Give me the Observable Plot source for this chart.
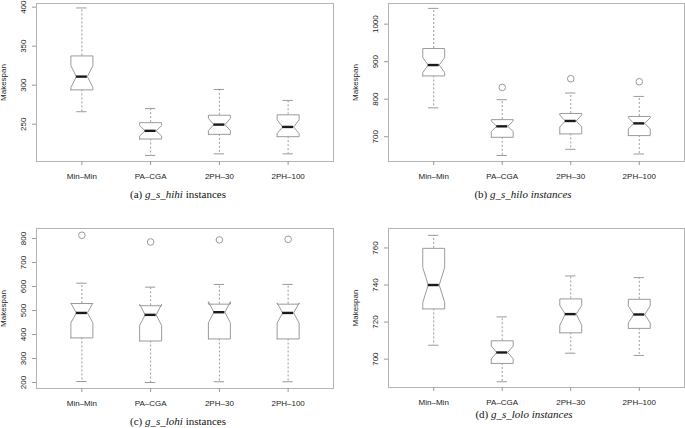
<!DOCTYPE html>
<html><head><meta charset="utf-8">
<script src="https://cdn.jsdelivr.net/npm/d3@7"></script>
<script src="https://cdn.jsdelivr.net/npm/@observablehq/plot@0.6"></script>
<style>
body{margin:0;background:#fff;}
#wrap{position:relative;width:685px;height:428px;overflow:hidden;background:#fff;}
.panel{position:absolute;}
.panel svg{overflow:visible;}
.cap{position:absolute;font-family:"Liberation Serif","Times New Roman",Times,serif;font-size:11px;line-height:12px;transform:translateX(-50%);white-space:nowrap;color:#111;}
[aria-label="x-axis tick"],[aria-label="y-axis tick"]{stroke:#999;}
</style>
</head><body><div id="wrap"></div>
<script>
const algorithms = ["Min\u2013Min", "PA\u2013CGA", "2PH\u201330", "2PH\u2013100"];

// (a) g_s_hihi
const hihiLower   = [266, 210, 212, 212];
const hihiQ1      = [294, 231, 237, 234];
const hihiMedian  = [311, 241.5, 249.5, 246.5];
const hihiQ3      = [337.5, 252, 261.5, 262];
const hihiUpper   = [399, 270, 294.5, 280.5];
const hihiNotchLo = [297, 234.8, 241.8, 237.8];
const hihiNotchHi = [325, 248.2, 257.4, 255.6];
const hihiOutliers = [[], [], [], []];
const hihiTicks = [250, 300, 350, 400];

// (b) g_s_hilo
const hiloLower   = [777, 650, 666.5, 654];
const hiloQ1      = [862, 698.5, 707.5, 703];
const hiloMedian  = [891, 727.7, 742, 735.6];
const hiloQ3      = [935, 745.5, 762, 754];
const hiloUpper   = [1042, 798.7, 816.5, 807.4];
const hiloNotchLo = [871, 714, 726, 720.6];
const hiloNotchHi = [911, 742, 758, 750.6];
const hiloOutliers = [[], [831.4], [854.5], [846.5]];
const hiloTicks = [700, 800, 900, 1000];

// (c) g_s_lohi
const lohiLower   = [204, 200, 203, 203];
const lohiQ1      = [386, 373, 381.6, 381.6];
const lohiMedian  = [490, 482, 493, 490];
const lohiQ3      = [529.3, 520, 526.6, 526.6];
const lohiUpper   = [614, 597.5, 608.8, 609];
const lohiNotchLo = [449, 438, 449, 448];
const lohiNotchHi = [531, 526, 537, 532];
const lohiOutliers = [[813.8], [785.8], [794.5], [797]];
const lohiTicks = [200, 300, 400, 500, 600, 700, 800];

// (d) g_s_lolo
const loloLower   = [707.5, 687.8, 703.2, 702];
const loloQ1      = [727.1, 697.7, 714.2, 716.6];
const loloMedian  = [740, 703.6, 724.3, 724.1];
const loloQ3      = [759.8, 709.9, 732.5, 732.3];
const loloUpper   = [766.8, 722.8, 744.9, 744];
const loloNotchLo = [730.6, 700.1, 718.3, 719.5];
const loloNotchHi = [749.4, 707.1, 729, 728.7];
const loloOutliers = [[], [], [], []];
const loloTicks = [700, 720, 740, 760];

const BOX_HALF = 0.16, NOTCH_SCALE = 0.5, STAPLE_HALF = 0.075;
const GRAY = "#9a9a9a";

const panels = [
  {lower:hihiLower,q1:hihiQ1,median:hihiMedian,q3:hihiQ3,upper:hihiUpper,nlo:hihiNotchLo,nhi:hihiNotchHi,out:hihiOutliers,ticks:hihiTicks,
   domain:[202.2,404.7], left:0, top:0, width:342, height:190, mL:36, mR:9, mT:3, mB:29,
   caption:'(a) <i>g_s_hihi</i> instances', cx:178, cy:194},
  {lower:hiloLower,q1:hiloQ1,median:hiloMedian,q3:hiloQ3,upper:hiloUpper,nlo:hiloNotchLo,nhi:hiloNotchHi,out:hiloOutliers,ticks:hiloTicks,
   domain:[634,1055], left:345, top:0, width:340, height:190, mL:43, mR:1, mT:3, mB:29,
   caption:'(b) <i>g_s_hilo instances</i>', cx:523, cy:194},
  {lower:lohiLower,q1:lohiQ1,median:lohiMedian,q3:lohiQ3,upper:lohiUpper,nlo:lohiNotchLo,nhi:lohiNotchHi,out:lohiOutliers,ticks:lohiTicks,
   domain:[175,842], left:0, top:215, width:342, height:200, mL:36, mR:9, mT:13, mB:27,
   caption:'(c) <i>g_s_lohi</i> instances', cx:178, cy:421},
  {lower:loloLower,q1:loloQ1,median:loloMedian,q3:loloQ3,upper:loloUpper,nlo:loloNotchLo,nhi:loloNotchHi,out:loloOutliers,ticks:loloTicks,
   domain:[684.7,770.5], left:345, top:215, width:340, height:200, mL:43, mR:1, mT:13, mB:28,
   caption:'(d) <i>g_s_lolo instances</i>', cx:524, cy:413.5}
];

const wrap = document.getElementById("wrap");

for (const p of panels) {
  const rows = algorithms.map((name, k) => ({
    i: k + 1, name, lower: p.lower[k], q1: p.q1[k], median: p.median[k], q3: p.q3[k],
    upper: p.upper[k], nlo: p.nlo[k], nhi: p.nhi[k]
  }));
  const w = BOX_HALF, s = BOX_HALF * NOTCH_SCALE;
  const outline = rows.flatMap(r => [
    [-w, r.q1], [w, r.q1], [w, r.nlo], [s, r.median], [w, r.nhi], [w, r.q3],
    [-w, r.q3], [-w, r.nhi], [-s, r.median], [-w, r.nlo], [-w, r.q1]
  ].map(([dx, y]) => ({i: r.i, x: r.i + dx, y})));
  const outliers = rows.flatMap((r, k) => p.out[k].map(v => ({i: r.i, v})));

  const chart = Plot.plot({
    width: p.width, height: p.height,
    marginLeft: p.mL, marginRight: p.mR, marginTop: p.mT, marginBottom: p.mB,
    style: {fontFamily: "'Liberation Sans', Arial, Helvetica, sans-serif", fontSize: "8px", color: "#222", background: "#fff"},
    x: {type: "linear", domain: [0.34, 4.66]},
    y: {domain: p.domain},
    marks: [
      Plot.frame({stroke: "#b4b4b4"}),
      Plot.ruleX(rows, {x: "i", y1: "q3", y2: "upper", stroke: GRAY, strokeDasharray: "2,2"}),
      Plot.ruleX(rows, {x: "i", y1: "q1", y2: "lower", stroke: GRAY, strokeDasharray: "2,2"}),
      Plot.ruleY(rows, {y: "upper", x1: d => d.i - STAPLE_HALF, x2: d => d.i + STAPLE_HALF, stroke: GRAY}),
      Plot.ruleY(rows, {y: "lower", x1: d => d.i - STAPLE_HALF, x2: d => d.i + STAPLE_HALF, stroke: GRAY}),
      Plot.line(outline, {x: "x", y: "y", z: "i", stroke: GRAY, strokeWidth: 1, fill: "#fff"}),
      Plot.ruleY(rows, {y: "median", x1: d => d.i - s, x2: d => d.i + s, stroke: "#1a1a1a", strokeWidth: 2.4}),
      Plot.dot(outliers, {x: "i", y: "v", r: 3.3, stroke: GRAY, strokeWidth: 1, fill: "none"}),
      Plot.axisX({ticks: [1, 2, 3, 4], tickFormat: i => algorithms[i - 1], tickSize: 4, tickPadding: 8, label: null}),
      Plot.axisY({ticks: p.ticks, tickFormat: d => String(d), tickRotate: -90, tickSize: 4, tickPadding: 7,
        label: "Makespan", labelAnchor: "center", labelArrow: "none", labelOffset: 36})
    ]
  });
  const div = document.createElement("div");
  div.className = "panel";
  div.style.left = p.left + "px";
  div.style.top = p.top + "px";
  div.appendChild(chart);
  wrap.appendChild(div);

  const cap = document.createElement("div");
  cap.className = "cap";
  cap.innerHTML = p.caption;
  cap.style.left = p.cx + "px";
  cap.style.top = (p.cy - 6) + "px";
  wrap.appendChild(cap);
}
</script>
</body></html>
